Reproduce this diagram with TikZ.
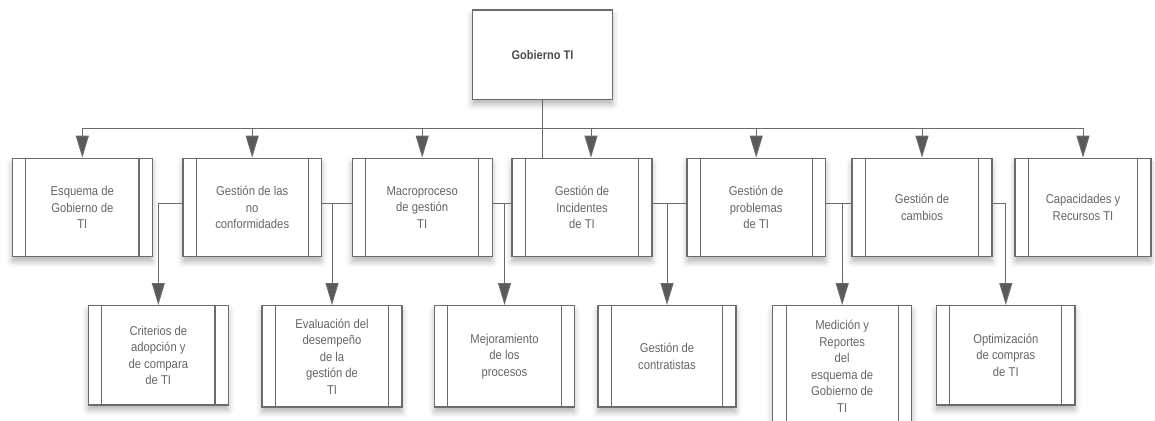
\documentclass[tikz,border=0pt]{standalone}
\usepackage{fontspec}
\setmainfont{Liberation Sans}[FakeStretch=0.88]
\usetikzlibrary{arrows.meta,shadows.blur}
\definecolor{edge}{HTML}{6B6B6B}
\definecolor{txt}{HTML}{666666}
\definecolor{tipc}{HTML}{5A5A5A}
\tikzset{
  box/.style={draw=edge, line width=1.3pt, fill=white, minimum width=140pt,
    minimum height=98.4pt, inner sep=0pt, align=center, text=txt,
    font=\fontsize{12.8}{16.5}\selectfont,
    blur shadow={shadow xshift=0pt, shadow yshift=-5pt, shadow blur radius=6pt, shadow opacity=30}},
  conn/.style={draw=edge, line width=1pt},
  arr/.style={conn, -{Triangle[width=13pt,length=22pt,fill=tipc]}},
  bar/.style={draw=edge, line width=1.1pt}
}
\begin{document}
\begin{tikzpicture}[x=1pt,y=-1pt]
\useasboundingbox (0,0) rectangle (1155,420);
\clip (0,0) rectangle (1155,420);
% top
\node[box, minimum height=89.3pt, text=black!70, font=\bfseries\fontsize{12.5}{15}\selectfont] (top) at (542.5,54.6) {Gobierno TI};
% row 1
\node[box] (b1) at (82.3,207.5) {Esquema de\\Gobierno de\\TI};
\node[box, minimum width=138.5pt] (b2) at (252.2,207.5) {Gestión de las\\no\\conformidades};
\node[box] (b3) at (422.2,207.5) {Macroproceso\\de gestión\\TI};
\node[box] (b4) at (582,207.5) {Gestión de\\Incidentes\\de TI};
\node[box, minimum width=138.5pt] (b5) at (756.2,207.5) {Gestión de\\problemas\\de TI};
\node[box] (b6) at (922,207.5) {Gestión de\\cambios};
\node[box, minimum width=136pt] (b7) at (1083,207.5) {Capacidades y\\Recursos TI};
% row 2
\node[box, minimum height=99.3pt] (c1) at (158.3,355.3) {Criterios de\\adopción y\\de compara\\de TI};
\node[box, minimum height=101.3pt] (c2) at (332,356.3) {Evaluación del\\desempeño\\de la\\gestión de\\TI};
\node[box, minimum height=101.3pt] (c3) at (504.5,356.3) {Mejoramiento\\de los\\procesos};
\node[box, minimum width=138pt, minimum height=101.3pt] (c4) at (667,356.3) {Gestión de\\contratistas};
\node[box, minimum width=139pt, minimum height=121pt] (c5) at (842.2,366.2) {Medición y\\Reportes\\del\\esquema de\\Gobierno de\\TI};
\node[box, minimum width=138.5pt, minimum height=99.3pt] (c6) at (1005.8,355.3) {Optimización\\de compras\\de TI};
% side bars
\foreach \n in {b1,b2,b3,b4,b5,b6,b7,c1,c2,c3,c4,c5,c6}{
  \draw[bar] ([xshift=14pt]\n.north west) -- ([xshift=14pt]\n.south west);
  \draw[bar] ([xshift=-14pt]\n.north east) -- ([xshift=-14pt]\n.south east);
}
% bus
\coordinate (bus) at (542.5,128);
\draw[conn] (top.south) -- (top.south |- b4.north);
\foreach \n in {b1,b2,b3,b5,b6,b7}{
  \draw[arr] (bus) -| (\n.north);
}
\draw[arr] (bus) -| ([xshift=9pt]b4.north);
% branches to row 2
\draw[arr] ([yshift=4pt]b2.west) -| (c1.north);
\draw[conn] ([yshift=4pt]b2.east) -- ([yshift=4pt]b3.west);
\draw[arr] ([yshift=4pt]b2.east) -| (c2.north);
\draw[conn] ([yshift=4pt]b3.east) -- ([yshift=4pt]b4.west);
\draw[arr] ([yshift=4pt]b3.east) -| (c3.north);
\draw[conn] ([yshift=4pt]b4.east) -- ([yshift=4pt]b5.west);
\draw[arr] ([yshift=4pt]b4.east) -| (c4.north);
\draw[conn] ([yshift=4pt]b5.east) -- ([yshift=4pt]b6.west);
\draw[arr] ([yshift=4pt]b5.east) -| (c5.north);
\draw[arr] ([yshift=4pt]b6.east) -| (c6.north);
\end{tikzpicture}
\end{document}
